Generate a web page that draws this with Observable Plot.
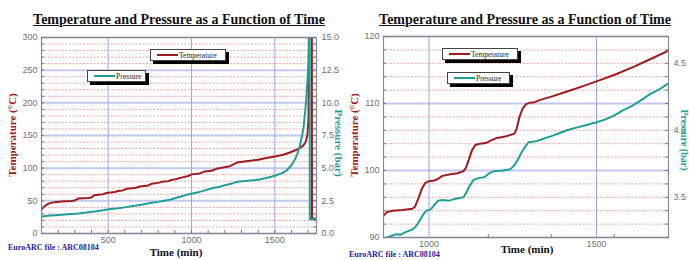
<!DOCTYPE html>
<html><head><meta charset="utf-8">
<script src="https://cdn.jsdelivr.net/npm/d3@7"></script>
<script src="https://cdn.jsdelivr.net/npm/@observablehq/plot@0.6"></script>
<style>
body{margin:0;background:#fff;}
#wrap{position:relative;width:689px;height:260px;overflow:hidden;background:#fff;}
.panel{position:absolute;top:0;height:260px;}
.title{position:absolute;top:12px;font:bold 14px "Liberation Serif";text-decoration:underline;white-space:nowrap;transform:translateX(-50%);color:#111;}
.leg{position:absolute;border:1px solid #444;background:#fff;box-shadow:3px 3px 0 #000;font:7.5px "Liberation Serif";display:flex;align-items:center;padding-left:6px;box-sizing:border-box;white-space:nowrap;color:#222;}
.sw{height:2px;width:21px;margin-right:1px;display:inline-block;}
.ylab{position:absolute;font:bold 11px "Liberation Serif";white-space:nowrap;transform-origin:center;}
.xlab{position:absolute;font:bold 11px "Liberation Serif";white-space:nowrap;transform:translateX(-50%);color:#111;}
.note{position:absolute;font:bold 8px "Liberation Serif";white-space:nowrap;color:#22229a;}
</style>
</head><body>
<div id="wrap"></div>
<script>
// ---------- data ----------
const titleText = "Temperature and Pressure as a Function of Time";
const seriesNames = ["Temperature", "Pressure"];
const seriesColors = ["#9e1b1f", "#1f9e98"];
const yLabelLeft = "Temperature (°C)";
const yLabelRight = "Pressure (bar)";
const xLabel = "Time (min)";
const noteText = "EuroARC file : ARC08104";

// Left panel (full run)
const leftTempTime = [100,115,130,150,180,220,280,300,320,380,400,415,470,490,540,560,590,610,660,690,740,760,800,830,860,880,910,940,980,1000,1050,1080,1120,1150,1190,1230,1260,1280,1340,1400,1450,1500,1550,1590,1620,1650,1670,1685,1695,1702,1706,1722,1723,1750];
const leftTemp     = [37,41,44,46.5,48,49,49.8,50.5,53.5,54.5,55,58.5,60,62,63.5,65,66,68.5,69.5,72,73.5,76,77.5,79.5,80,82,83.5,85.5,88,90.5,92,95,96,99,101,103,107,109,111,113,115.5,118,120.5,124,127,131,134.5,140,150,175,320,320,23,23];
const leftPresTime = [100,140,200,260,320,380,430,470,500,560,600,640,700,760,800,870,920,960,1000,1040,1080,1130,1170,1200,1250,1270,1320,1390,1450,1500,1540,1570,1595,1618,1635,1650,1662,1672,1682,1690,1696,1700,1703,1705,1709,1710,1750];
const leftPres     = [1.3,1.36,1.42,1.48,1.53,1.62,1.7,1.78,1.85,1.93,2.0,2.08,2.2,2.35,2.42,2.58,2.78,2.92,3.04,3.15,3.3,3.48,3.58,3.7,3.85,3.95,4.02,4.1,4.25,4.42,4.6,4.82,5.15,5.6,6.1,6.7,7.4,8.1,9.3,10.5,11.8,12.6,14,16,16,1.1,1.1];

// Right panel (zoom)
const rightTempTime = [864,875,890,920,950,958,968,978,988,1000,1015,1025,1040,1060,1085,1103,1110,1118,1128,1138,1150,1170,1185,1200,1230,1255,1262,1270,1280,1290,1300,1315,1330,1370,1412,1460,1500,1560,1612,1660,1715];
const rightTemp     = [93.3,93.8,94.0,94.1,94.3,94.6,95.8,97.2,98.1,98.4,98.5,98.7,99.2,99.4,99.6,99.9,100.4,101.5,103.0,103.8,104.0,104.1,104.5,104.8,105.1,105.5,106.3,108,109.3,109.9,110.1,110.2,110.5,111.1,111.8,112.6,113.3,114.4,115.5,116.6,117.9];
const rightPresTime = [868,875,890,903,915,930,950,960,970,982,992,1005,1015,1027,1040,1060,1080,1103,1112,1120,1133,1150,1165,1180,1195,1220,1243,1255,1265,1275,1285,1297,1310,1322,1345,1370,1390,1412,1440,1470,1500,1525,1552,1580,1605,1630,1660,1690,1715];
const rightPres     = [3.19,3.2,3.215,3.225,3.22,3.24,3.26,3.28,3.32,3.37,3.40,3.41,3.44,3.475,3.48,3.475,3.49,3.50,3.54,3.58,3.63,3.645,3.65,3.68,3.695,3.70,3.71,3.74,3.78,3.83,3.87,3.91,3.915,3.92,3.94,3.96,3.98,4.00,4.02,4.04,4.06,4.08,4.11,4.15,4.18,4.22,4.27,4.31,4.35];

// tick values
const leftXTicks = [500,1000,1500];
const leftXMinor = [200,300,400,500,600,700,800,900,1000,1100,1200,1300,1400,1500,1600,1700];
const leftYTicks = [0,50,100,150,200,250,300];
const leftPTicks = [0,2.5,5,7.5,10,12.5,15];
const rightXTicks = [1000,1500];
const rightXMinor = [1177,1365,1553];
const rightYTicks = [90,100,110,120];
const rightPTicks = [3.5,4.0,4.5];

// ---------- drawing ----------
const wrap = document.getElementById("wrap");

function panel(cfg) {
  const el = document.createElement("div");
  el.className = "panel";
  el.style.left = cfg.left + "px";
  el.style.width = cfg.width + "px";
  wrap.appendChild(el);

  const toT = cfg.toT;
  const pw = cfg.width - cfg.ml - cfg.mr;
  const ph = 260 - cfg.mt - cfg.mb;
  const temp = cfg.tTime.map((t, i) => ({t, v: cfg.temp[i]}));
  const pres = cfg.pTime.map((t, i) => ({t, v: toT(cfg.pres[i])}));
  const [y0, y1] = cfg.yDomain;
  const minorY = d3.range(y0, y1 + 0.001, cfg.minorStep).filter(v => !cfg.yTicks.includes(v));
  const minorAll = d3.range(y0, y1 + 0.001, cfg.minorStep);
  const rightMinor = d3.range(cfg.pMinor[0], cfg.pMinor[1] + 1e-9, cfg.pMinor[2]).map(toT).filter(v => v >= y0 - 1e-6 && v <= y1 + 1e-6);

  const svg = Plot.plot({
    width: cfg.width, height: 260,
    marginLeft: cfg.ml, marginRight: cfg.mr, marginTop: cfg.mt, marginBottom: cfg.mb,
    x: {domain: cfg.xDomain},
    y: {domain: cfg.yDomain},
    style: {background: "transparent", fontFamily: "Liberation Sans", fontSize: "9px", color: "#707070"},
    marks: [
      Plot.ruleY(minorY, {stroke: "#f3a3a3", strokeWidth: 1, strokeDasharray: "2,1.5"}),
      Plot.ruleY(cfg.yTicks, {stroke: "#c6c6ef", strokeWidth: 2}),
      Plot.ruleX(cfg.xTicks, {stroke: "#a2a2e0", strokeWidth: 1}),
      Plot.line(temp, {x: "t", y: "v", stroke: seriesColors[0], strokeWidth: 2, clip: true}),
      Plot.line(pres, {x: "t", y: "v", stroke: seriesColors[1], strokeWidth: 2, clip: true}),
      Plot.frame({stroke: "#8a8a8a", strokeWidth: 1.2}),
      Plot.ruleY(minorAll, {stroke: "#777", insetRight: pw - 3}),
      Plot.ruleY(rightMinor, {stroke: "#777", insetLeft: pw - 3}),
      Plot.ruleX(cfg.xMinor, {stroke: "#777", insetTop: ph - 3}),
      Plot.axisY(cfg.yTicks, {anchor: "left", tickSize: 0, tickPadding: 4, label: null, tickFormat: d => String(d)}),
      Plot.axisY(cfg.pTicks.map(toT), {anchor: "right", tickSize: 0, tickPadding: 5, label: null, tickFormat: d => cfg.fromT(d).toFixed(1)}),
      Plot.axisX(cfg.xTicks, {anchor: "bottom", tickSize: 0, tickPadding: 3, label: null, tickFormat: d => String(d)})
    ]
  });
  el.appendChild(svg);

  const add = (cls, text, css) => {
    const d = document.createElement("div");
    d.className = cls;
    d.textContent = text;
    Object.assign(d.style, css);
    el.appendChild(d);
    return d;
  };
  add("title", titleText, {left: cfg.titleX + "px"});
  add("ylab", yLabelLeft, {left: cfg.tLab[0] + "px", top: cfg.tLab[1] + "px", color: seriesColors[0], transform: "translate(-50%,-50%) rotate(-90deg)"});
  add("ylab", yLabelRight, {left: cfg.pLab[0] + "px", top: cfg.pLab[1] + "px", color: seriesColors[1], fontSize: cfg.pLab[2] + "px", transform: "translate(-50%,-50%) rotate(90deg)"});
  add("xlab", xLabel, {left: cfg.xLab[0] + "px", top: cfg.xLab[1] + "px"});
  add("note", noteText, {left: cfg.note[0] + "px", top: cfg.note[1] + "px"});

  cfg.legends.forEach((lg, i) => {
    const d = document.createElement("div");
    d.className = "leg";
    Object.assign(d.style, {left: lg[0] + "px", top: lg[1] + "px", width: lg[2] + "px", height: lg[3] + "px"});
    const sw = document.createElement("span");
    sw.className = "sw";
    sw.style.background = seriesColors[i];
    const tx = document.createElement("span");
    tx.textContent = seriesNames[i];
    d.appendChild(sw); d.appendChild(tx);
    el.appendChild(d);
  });
}

panel({
  left: 0, width: 344, ml: 41, mr: 28, mt: 37, mb: 27,
  xDomain: [100, 1750], yDomain: [0, 300], minorStep: 10,
  tTime: leftTempTime, temp: leftTemp, pTime: leftPresTime, pres: leftPres,
  toT: p => 20 * p, fromT: t => t / 20,
  xTicks: leftXTicks, xMinor: leftXMinor, yTicks: leftYTicks, pTicks: leftPTicks, pMinor: [0, 15, 0.5],
  titleX: 179, tLab: [12, 135], pLab: [339, 143, 11], xLab: [176, 246], note: [8, 243],
  legends: [[150, 49, 76, 12], [87, 70, 59, 12]]
});

panel({
  left: 344, width: 345, ml: 39, mr: 21, mt: 36, mb: 23,
  xDomain: [864, 1715], yDomain: [90, 120], minorStep: 2,
  tTime: rightTempTime, temp: rightTemp, pTime: rightPresTime, pres: rightPres,
  toT: p => 20 * p + 26, fromT: t => (t - 26) / 20,
  xTicks: rightXTicks, xMinor: rightXMinor, yTicks: rightYTicks, pTicks: rightPTicks, pMinor: [3.2, 4.7, 0.1],
  titleX: 181, tLab: [10, 135], pLab: [340, 140, 10], xLab: [183, 243], note: [5, 250],
  legends: [[98, 48, 76, 12], [103, 72, 63, 12]]
});
</script>
</body></html>
